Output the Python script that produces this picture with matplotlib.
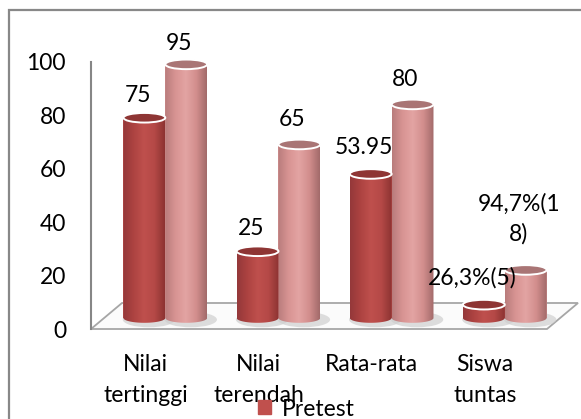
import numpy as np
import matplotlib.pyplot as plt
import matplotlib.transforms as mtransforms
from matplotlib.patches import Ellipse, Polygon, Rectangle, Patch, PathPatch
from matplotlib.path import Path
from matplotlib.colors import LinearSegmentedColormap

categories = ['Nilai\ntertinggi', 'Nilai\nterendah', 'Rata-rata', 'Siswa\ntuntas']
pretest = [75, 25, 53.95, 5]
posttest = [95, 65, 80, 18]
pretest_labels = ['75', '25', '53.95', '26,3%(5)']
posttest_labels = ['95', '65', '80', '94,7%(1\n8)']
yticks = [0, 20, 40, 60, 80, 100]

# label offsets in pixels from the top of each cylinder
pre_off = [(-6, 22), (-6, 23), (-7, 26), (-12, 27)]
post_off = [(-7, 21), (-7, 25), (-7, 25), (-7, 51)]

plt.rcParams['font.family'] = ['Lato', 'DejaVu Sans']
fs = 16.5

fig = plt.figure(figsize=(5.81, 4.19), dpi=100)
ax = fig.add_axes([91 / 581, 90 / 419, 456 / 581, 267 / 419])

# outer frame (cut off on the right and bottom)
fig.patches.append(Rectangle((9 / 581, -0.2), 1.2, (409 / 419) + 0.2, transform=fig.transFigure,
                             fill=False, edgecolor='#888888', lw=1.6))

# floor of the 3d plot
ax.add_patch(Polygon([(0, 0), (1, 0), (1 + 31 / 456, 26 / 267), (31 / 456, 26 / 267)],
                     closed=True, transform=ax.transAxes, facecolor='#fbfbfb',
                     edgecolor='#a6a6a6', lw=1.3, zorder=1, clip_on=False))

# bars sit half way back on the floor
depth = mtransforms.offset_copy(ax.transData, fig=fig, x=20, y=11, units='dots')

cm_pre = LinearSegmentedColormap.from_list('pre', ['#94383a', '#ad4341', '#bf504d', '#b54947', '#8c3332'])
cm_post = LinearSegmentedColormap.from_list('post', ['#b87c7c', '#d89493', '#e3a4a3', '#d28e8d', '#a26a6a'])
grad = np.linspace(0, 1, 128).reshape(1, -1)
ell_h = 3.6

x = np.arange(len(categories))
w = 0.37


def cylinders(rects, cmap, top_col, labels, offs):
    for r, lab, off in zip(rects, labels, offs):
        x0, bw, h = r.get_x(), r.get_width(), r.get_height()
        cx = x0 + bw / 2
        # soft shadow on the floor
        ax.add_patch(Ellipse((cx + 0.04, -0.6), bw * 1.25, ell_h * 1.6, transform=depth,
                             facecolor='#cfcfcf', edgecolor='none', alpha=0.7, zorder=1.5, clip_on=False))
        t = np.linspace(np.pi, 2 * np.pi, 40)
        arc = np.column_stack([cx + bw / 2 * np.cos(t), ell_h / 2 * np.sin(t)])
        verts = np.vstack([[x0, h], arc, [x0 + bw, h], [x0, h]])
        codes = [Path.MOVETO] + [Path.LINETO] * (len(verts) - 2) + [Path.CLOSEPOLY]
        body = PathPatch(Path(verts, codes), transform=depth, facecolor='none',
                         edgecolor='none', clip_on=False)
        ax.add_patch(body)
        im = ax.imshow(grad, cmap=cmap, extent=[x0, x0 + bw, -ell_h / 2, h], aspect='auto',
                       transform=depth, zorder=3, interpolation='bilinear')
        im.set_clip_path(body)
        ax.add_patch(Ellipse((cx, h), bw, ell_h, transform=depth, facecolor=top_col,
                             edgecolor='white', lw=1.4, zorder=4, clip_on=False))
        ax.annotate(lab, xy=(cx, h), xycoords=depth, xytext=off, textcoords='offset pixels',
                    ha='center', va='center', fontsize=fs, color='black', zorder=6,
                    linespacing=1.45)


b_post = ax.bar(x + w / 2, posttest, w, color='#d99594', transform=depth, zorder=2, clip_on=False)
b_pre = ax.bar(x - w / 2, pretest, w, color='#c0504d', transform=depth, zorder=2, clip_on=False)
cylinders(b_post, cm_post, '#a97575', posttest_labels, post_off)
cylinders(b_pre, cm_pre, '#8e3534', pretest_labels, pre_off)

ax.set_xlim(-0.48, 3.55)
ax.set_ylim(0, 100)
ax.set_yticks(yticks)
ax.set_yticklabels([str(v) for v in yticks], fontsize=fs)
ax.set_xticks(x)
ax.set_xticklabels(categories, fontsize=fs, linespacing=1.6)
ax.tick_params(axis='y', length=0, pad=18)
ax.tick_params(axis='x', length=0, pad=18)
for s in ['top', 'right', 'bottom']:
    ax.spines[s].set_visible(False)
ax.spines['left'].set_color('#868686')
ax.spines['left'].set_linewidth(1.5)
ax.patch.set_visible(False)

fig.legend(handles=[Patch(color='#c0504d', label='Pretest')], loc='center left',
           bbox_to_anchor=(258 / 581, 10 / 419), frameon=False, fontsize=fs,
           handlelength=0.55, handleheight=0.55, handletextpad=0.5, borderpad=0, borderaxespad=0)

fig.savefig('out.png', dpi=100)
